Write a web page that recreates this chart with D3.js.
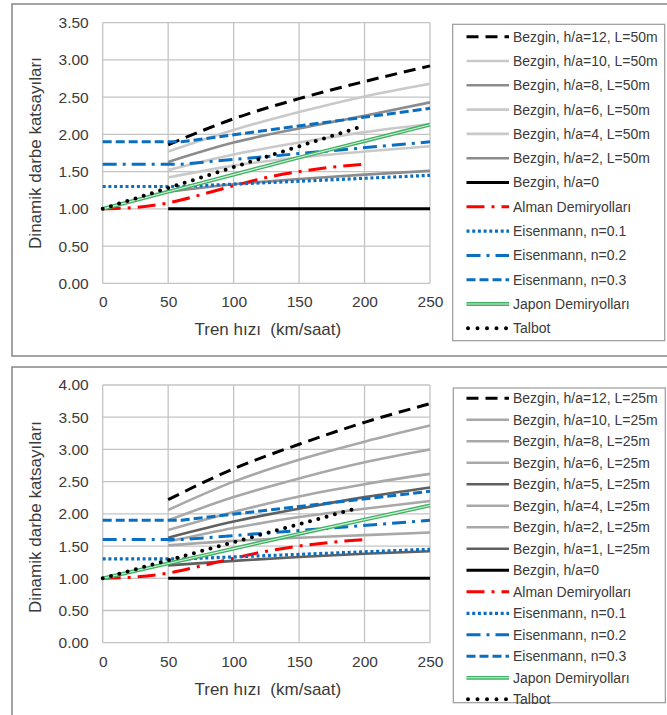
<!DOCTYPE html>
<html><head><meta charset="utf-8">
<script src="https://cdn.jsdelivr.net/npm/d3@7"></script>
<style>body{margin:0;background:#fff}svg{display:block;font-family:"Liberation Sans",Arial,sans-serif}</style>
</head><body><svg id="c" width="667" height="715"></svg>
<script>
// ---------- data ----------
const xTicks = [0, 50, 100, 150, 200, 250];
const yTicksTop = [0, 0.5, 1, 1.5, 2, 2.5, 3, 3.5];
const yTicksBottom = [0, 0.5, 1, 1.5, 2, 2.5, 3, 3.5, 4];

const bezginSpeeds = [50, 100, 150, 200, 250];
// top panel, L = 50 m
const bezgin50_12 = [1.86, 2.21, 2.48, 2.71, 2.92];
const bezgin50_10 = [1.77, 2.06, 2.30, 2.51, 2.68];
const bezgin50_8  = [1.63, 1.89, 2.08, 2.25, 2.43];
const bezgin50_6  = [1.52, 1.73, 1.89, 2.03, 2.14];
const bezgin50_4  = [1.42, 1.58, 1.69, 1.77, 1.84];
const bezgin50_2  = [1.23, 1.33, 1.40, 1.46, 1.51];
// bottom panel, L = 25 m
const bezgin25_12 = [2.22, 2.70, 3.08, 3.42, 3.71];
const bezgin25_10 = [2.06, 2.50, 2.84, 3.12, 3.37];
const bezgin25_8  = [1.90, 2.26, 2.55, 2.80, 3.00];
const bezgin25_6  = [1.75, 2.03, 2.27, 2.46, 2.62];
const bezgin25_5  = [1.63, 1.88, 2.08, 2.26, 2.41];
const bezgin25_4  = [1.57, 1.78, 1.95, 2.08, 2.20];
const bezgin25_2  = [1.51, 1.58, 1.63, 1.67, 1.71];
const bezgin25_1  = [1.20, 1.27, 1.33, 1.38, 1.42];
const bezgin0     = [1.00, 1.00, 1.00, 1.00, 1.00];

const almanSpeeds = [0, 25, 50, 75, 100, 125, 150, 175, 200];
const almanValues = [1.00, 1.02, 1.08, 1.19, 1.31, 1.42, 1.50, 1.56, 1.60];

const eisenSpeeds = [0, 60, 250];
const eisen01 = [1.30, 1.30, 1.45];
const eisen02 = [1.60, 1.60, 1.90];
const eisen03 = [1.90, 1.90, 2.35];

const japonSpeeds = [0, 50, 100, 150, 200, 250];
const japonValues = [1.00, 1.23, 1.46, 1.69, 1.91, 2.13];

const talbotSpeeds = [0, 50, 100, 150, 195];
const talbotValues = [1.00, 1.28, 1.56, 1.84, 2.09];

// ---------- styles ----------
const S = {
  blackDash: {stroke: "#000", w: 3, dash: "12,7"},
  light:     {stroke: "#c9c9c9", w: 2.6},
  dark:      {stroke: "#8c8c8c", w: 2.6},
  mid:       {stroke: "#a8a8a8", w: 2.6},
  darker:    {stroke: "#606060", w: 2.6},
  black:     {stroke: "#000", w: 3},
  red:       {stroke: "#ff0000", w: 3, dash: "18,7,3,7"},
  blueDot:   {stroke: "#0b6fc1", w: 3.2, dash: "3,2.7"},
  blueDashDot: {stroke: "#0b6fc1", w: 3, dash: "14,6,3,6"},
  blueDash:  {stroke: "#0b6fc1", w: 3, dash: "9,4"},
  green:     {stroke: "#3fb162", w: 3.8, inner: "#d6f1dc"},
  talbot:    {stroke: "#000", w: 4, dash: "0,8.6", cap: "round"}
};

function commonSeries() {
  return [
    {name: "Bezgin, h/a=0", x: bezginSpeeds, y: bezgin0, s: S.black},
    {name: "Alman Demiryolları", x: almanSpeeds, y: almanValues, s: S.red},
    {name: "Eisenmann, n=0.1", x: eisenSpeeds, y: eisen01, s: S.blueDot, lin: true},
    {name: "Eisenmann, n=0.2", x: eisenSpeeds, y: eisen02, s: S.blueDashDot, lin: true},
    {name: "Eisenmann, n=0.3", x: eisenSpeeds, y: eisen03, s: S.blueDash, lin: true},
    {name: "Japon Demiryolları", x: japonSpeeds, y: japonValues, s: S.green},
    {name: "Talbot", x: talbotSpeeds, y: talbotValues, s: S.talbot, lin: true}
  ];
}

const panels = [
  {
    frame: {x: 12, y: 4, h: 352},
    plot: {l: 102.7, r: 430, t: 22.7, b: 283.3},
    yMax: 3.5, yTicks: yTicksTop,
    legend: {x: 452.7, y: 24.3, w: 212, h: 316.4, first: 36.7, step: 24.3},
    yTitleY: 153,
    series: [
      {name: "Bezgin, h/a=12, L=50m", x: bezginSpeeds, y: bezgin50_12, s: S.blackDash},
      {name: "Bezgin, h/a=10, L=50m", x: bezginSpeeds, y: bezgin50_10, s: S.light},
      {name: "Bezgin, h/a=8, L=50m", x: bezginSpeeds, y: bezgin50_8, s: S.dark},
      {name: "Bezgin, h/a=6, L=50m", x: bezginSpeeds, y: bezgin50_6, s: S.light},
      {name: "Bezgin, h/a=4, L=50m", x: bezginSpeeds, y: bezgin50_4, s: S.light},
      {name: "Bezgin, h/a=2, L=50m", x: bezginSpeeds, y: bezgin50_2, s: S.dark}
    ].concat(commonSeries())
  },
  {
    frame: {x: 12, y: 367, h: 400},
    plot: {l: 102.7, r: 430, t: 385, b: 642.7},
    yMax: 4, yTicks: yTicksBottom,
    legend: {x: 453.3, y: 388, w: 212, h: 314.7, first: 398.3, step: 21.5},
    yTitleY: 517,
    series: [
      {name: "Bezgin, h/a=12, L=25m", x: bezginSpeeds, y: bezgin25_12, s: S.blackDash},
      {name: "Bezgin, h/a=10, L=25m", x: bezginSpeeds, y: bezgin25_10, s: S.mid},
      {name: "Bezgin, h/a=8, L=25m", x: bezginSpeeds, y: bezgin25_8, s: S.mid},
      {name: "Bezgin, h/a=6, L=25m", x: bezginSpeeds, y: bezgin25_6, s: S.mid},
      {name: "Bezgin, h/a=5, L=25m", x: bezginSpeeds, y: bezgin25_5, s: S.darker},
      {name: "Bezgin, h/a=4, L=25m", x: bezginSpeeds, y: bezgin25_4, s: S.mid},
      {name: "Bezgin, h/a=2, L=25m", x: bezginSpeeds, y: bezgin25_2, s: S.mid},
      {name: "Bezgin, h/a=1, L=25m", x: bezginSpeeds, y: bezgin25_1, s: S.darker}
    ].concat(commonSeries())
  }
];

const svg = d3.select("#c");

function applyStyle(sel, s) {
  sel.attr("fill", "none").attr("stroke", s.stroke).attr("stroke-width", s.w)
     .attr("stroke-linecap", s.cap || "butt").attr("stroke-linejoin", "round");
  if (s.dash) sel.attr("stroke-dasharray", s.dash);
}

panels.forEach(p => {
  const g = svg.append("g");
  g.append("rect").attr("x", p.frame.x).attr("y", p.frame.y)
    .attr("width", 700).attr("height", p.frame.h)
    .attr("fill", "#fff").attr("stroke", "#8d8d8d").attr("stroke-width", 1.6);

  const x = d3.scaleLinear().domain([0, 250]).range([p.plot.l, p.plot.r]);
  const y = d3.scaleLinear().domain([0, p.yMax]).range([p.plot.b, p.plot.t]);

  // grid
  const grid = g.append("g");
  grid.selectAll(".gy").data(p.yTicks).join("line")
    .attr("x1", p.plot.l).attr("x2", p.plot.r)
    .attr("y1", d => y(d)).attr("y2", d => y(d))
    .attr("stroke", "#c4c4c4").attr("stroke-width", 1.3);
  grid.selectAll(".gx").data(xTicks).join("line")
    .attr("x1", d => x(d)).attr("x2", d => x(d))
    .attr("y1", p.plot.t).attr("y2", p.plot.b)
    .attr("stroke", "#c4c4c4").attr("stroke-width", 1.3);

  // axes (labels only)
  const ya = d3.axisLeft(y).tickValues(p.yTicks).tickFormat(d3.format(".2f")).tickSize(0).tickPadding(14);
  const yg = g.append("g").attr("transform", `translate(${p.plot.l},0)`).call(ya);
  yg.select(".domain").remove();
  yg.selectAll("text").attr("font-size", 15.5).attr("fill", "#3a3a3a")
    .attr("font-family", '"Liberation Sans",Arial,sans-serif');

  const xa = d3.axisBottom(x).tickValues(xTicks).tickFormat(d3.format("d")).tickSize(0).tickPadding(13);
  const xg = g.append("g").attr("transform", `translate(0,${p.plot.b})`).call(xa);
  xg.select(".domain").remove();
  xg.selectAll("text").attr("font-size", 15.5).attr("fill", "#3a3a3a")
    .attr("font-family", '"Liberation Sans",Arial,sans-serif');

  // titles
  g.append("text").attr("x", (p.plot.l + p.plot.r) / 2 + 1.5).attr("y", p.plot.b + 52)
    .attr("text-anchor", "middle").attr("font-size", 17).attr("fill", "#3a3a3a")
    .attr("xml:space", "preserve").style("white-space", "pre")
    .text("Tren hızı  (km/saat)");
  g.append("text").attr("transform", `translate(41,${p.yTitleY}) rotate(-90)`)
    .attr("text-anchor", "middle").attr("font-size", 17).attr("fill", "#3a3a3a")
    .text("Dinamik darbe katsayıları");

  // series
  const lineGen = curve => d3.line().x(d => x(d[0])).y(d => y(d[1])).curve(curve);
  p.series.forEach(sr => {
    const pts = sr.x.map((v, i) => [v, sr.y[i]]);
    const gen = lineGen(sr.lin ? d3.curveLinear : d3.curveMonotoneX);
    const path = g.append("path").datum(pts).attr("d", gen);
    applyStyle(path, sr.s);
    if (sr.s.inner) {
      g.append("path").datum(pts).attr("d", gen)
        .attr("fill", "none").attr("stroke", sr.s.inner).attr("stroke-width", 1.1);
    }
  });

  // legend
  const L = p.legend;
  const lg = g.append("g");
  lg.append("rect").attr("x", L.x).attr("y", L.y).attr("width", L.w).attr("height", L.h)
    .attr("fill", "#fff").attr("stroke", "#9a9a9a").attr("stroke-width", 1.2);
  p.series.forEach((sr, i) => {
    const cy = L.first + i * L.step;
    const ln = lg.append("line").attr("x1", 466.5).attr("x2", 509).attr("y1", cy).attr("y2", cy);
    applyStyle(ln, sr.s);
    if (sr.s === S.talbot) ln.attr("stroke-dasharray", "0,9.5").attr("x1", 468);
    if (sr.s.inner) {
      lg.append("line").attr("x1", 466.5).attr("x2", 509).attr("y1", cy).attr("y2", cy)
        .attr("stroke", sr.s.inner).attr("stroke-width", 1.1);
    }
    lg.append("text").attr("x", 513).attr("y", cy).attr("dy", "0.35em")
      .attr("font-size", 14).attr("fill", "#3a3a3a").text(sr.name);
  });
});
</script></body></html>
